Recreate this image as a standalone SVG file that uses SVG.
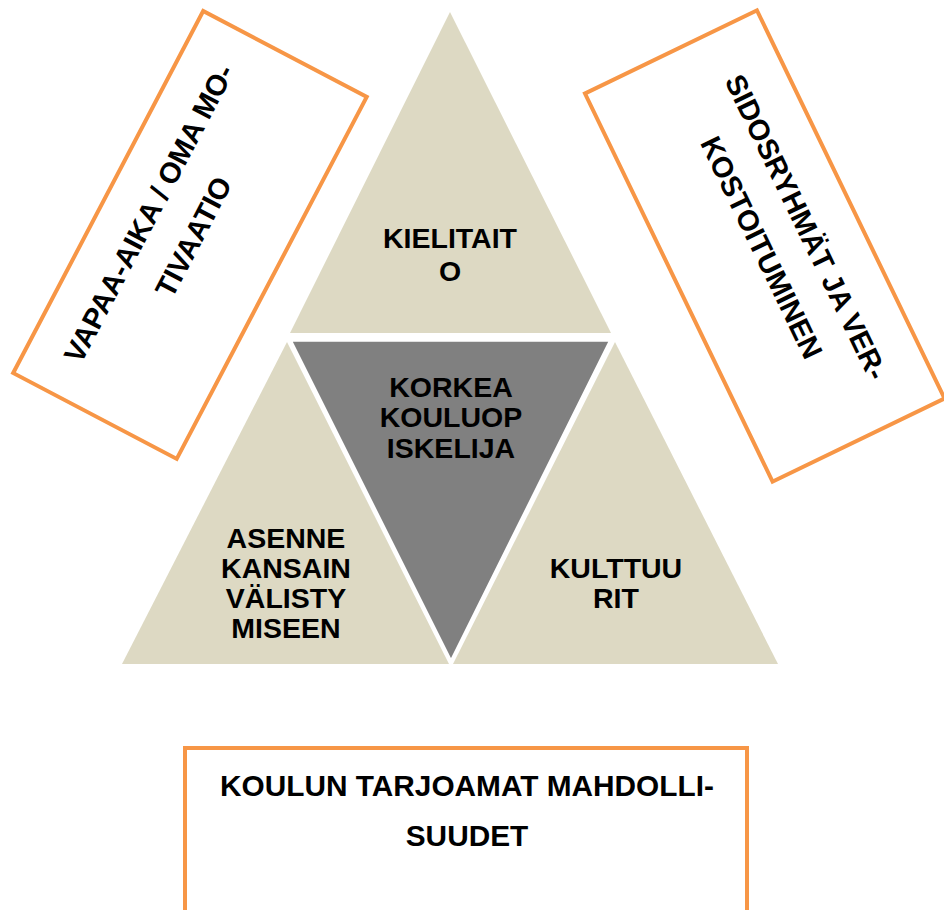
<svg xmlns="http://www.w3.org/2000/svg" width="944" height="910" viewBox="0 0 944 910">
  <style>
    .tri { fill: #DDD9C3; }
    .dark { fill: #808080; stroke: #FFFFFF; stroke-width: 3.5; stroke-linejoin: miter; }
    .box { fill: #FFFFFF; stroke: #F79646; stroke-width: 4; }
    .t { font-family: "Liberation Sans", Arial, sans-serif; font-weight: bold; font-size: 28.5px; fill: #000000; text-anchor: middle; }
    .tb { font-family: "Liberation Sans", Arial, sans-serif; font-weight: bold; font-size: 29px; fill: #000000; text-anchor: middle; }
    .tk { font-family: "Liberation Sans", Arial, sans-serif; font-weight: bold; font-size: 29.8px; fill: #000000; text-anchor: middle; }
  </style>
  <rect width="944" height="910" fill="#FFFFFF"/>

  <g id="box-vapaa-aika" transform="translate(190,235) rotate(-62.3)">
    <rect class="box" x="-204.4" y="-92.4" width="408.8" height="184.7"/>
    <text class="tb" x="0" y="-36.4">VAPAA-AIKA / OMA MO-</text>
    <text class="tb" x="0" y="14">TIVAATIO</text>
  </g>

  <g id="box-sidosryhmat" transform="translate(764.75,246) rotate(64.2)">
    <rect class="box" x="-215.5" y="-95.5" width="431" height="191"/>
    <text class="tb" x="1" y="-35.5">SIDOSRYHMÄT JA VER-</text>
    <text class="tb" x="0" y="13.6">KOSTOITUMINEN</text>
  </g>

  <g id="tri-kielitaito">
    <polygon class="tri" points="450,12 290,333 611,333"/>
    <text class="t" x="450" y="248">KIELITAIT</text>
    <text class="t" x="450" y="281">O</text>
  </g>

  <g id="tri-asenne">
    <polygon class="tri" points="287,342 122,664 449,664"/>
    <text class="t" x="286" y="548">ASENNE</text>
    <text class="t" x="286" y="578">KANSAIN</text>
    <text class="t" x="286" y="608">VÄLISTY</text>
    <text class="t" x="286" y="638">MISEEN</text>
  </g>

  <g id="tri-kulttuurit">
    <polygon class="tri" points="615,342 453,664 778,664"/>
    <text class="t" x="616" y="578">KULTTUU</text>
    <text class="t" x="616" y="608">RIT</text>
  </g>

  <g id="tri-korkeakouluopiskelija">
    <polygon class="dark" points="290,340 611,340 451,662"/>
    <text class="t" x="451" y="397">KORKEA</text>
    <text class="t" x="451" y="427">KOULUOP</text>
    <text class="t" x="451" y="458">ISKELIJA</text>
  </g>

  <g id="box-koulun-tarjoamat">
    <rect class="box" x="185" y="748" width="562" height="180"/>
    <text class="tk" x="467" y="795.5">KOULUN TARJOAMAT MAHDOLLI-</text>
    <text class="tk" x="467" y="845.5">SUUDET</text>
  </g>
</svg>
